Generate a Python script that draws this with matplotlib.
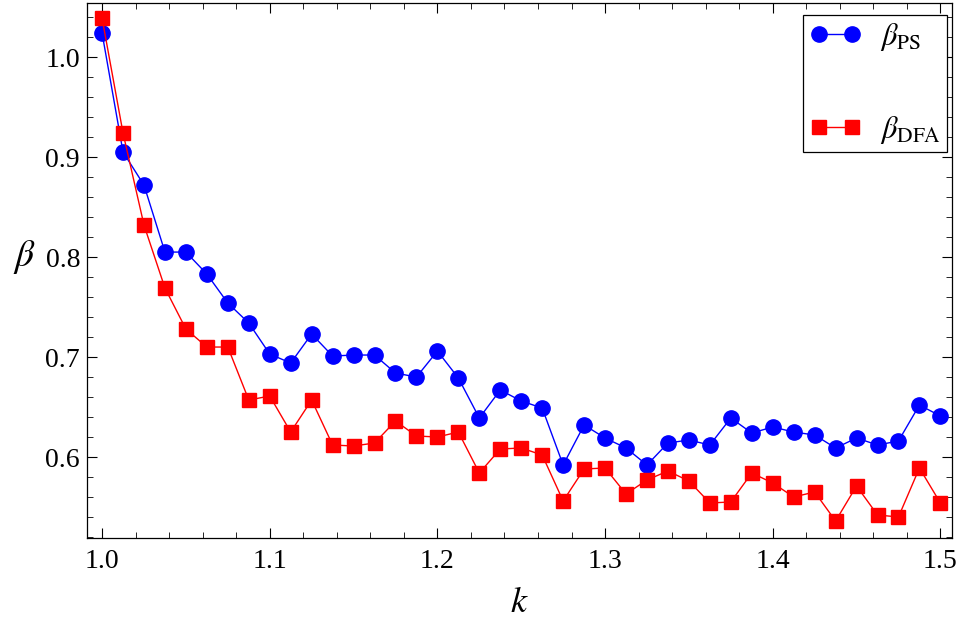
import matplotlib
matplotlib.use("Agg")
import matplotlib.pyplot as plt
import numpy as np
from matplotlib.ticker import MultipleLocator

plt.rcParams['font.family'] = ['Liberation Serif', 'DejaVu Serif']
plt.rcParams['mathtext.fontset'] = 'stix'

# k values, step 0.0125
k = np.linspace(1.0, 1.5, 41)

beta_ps = [1.024, 0.905, 0.872, 0.805, 0.805, 0.783, 0.754, 0.734, 0.703, 0.694,
           0.723, 0.701, 0.702, 0.702, 0.684, 0.680, 0.706, 0.679, 0.639, 0.667,
           0.656, 0.649, 0.592, 0.632, 0.619, 0.609, 0.592, 0.614, 0.617, 0.612,
           0.639, 0.624, 0.630, 0.625, 0.622, 0.609, 0.619, 0.612, 0.616, 0.652,
           0.641]

beta_dfa = [1.039, 0.924, 0.832, 0.769, 0.728, 0.710, 0.710, 0.657, 0.661, 0.625,
            0.657, 0.612, 0.611, 0.614, 0.636, 0.621, 0.620, 0.625, 0.584, 0.608,
            0.609, 0.602, 0.556, 0.588, 0.589, 0.563, 0.577, 0.586, 0.576, 0.554,
            0.555, 0.584, 0.574, 0.560, 0.565, 0.536, 0.571, 0.542, 0.540, 0.589,
            0.554]

fig = plt.figure(figsize=(9.57, 6.19), dpi=100)
ax = fig.add_axes([0.0909, 0.1309, 0.904, 0.864])

ax.plot(k, beta_ps, color='#0000ff', marker='o', markersize=11, lw=1,
        label=r'$\beta_{\rm PS}$')
ax.plot(k, beta_dfa, color='#ff0000', marker='s', markersize=9.5, lw=1,
        label=r'$\beta_{\rm DFA}$')

ax.set_xlim(0.991, 1.507)
ax.set_ylim(0.519, 1.054)

ax.xaxis.set_major_locator(MultipleLocator(0.1))
ax.xaxis.set_minor_locator(MultipleLocator(0.02))
ax.yaxis.set_major_locator(MultipleLocator(0.1))
ax.yaxis.set_minor_locator(MultipleLocator(0.02))
ax.tick_params(which='both', direction='in', top=True, right=True, labelsize=20)
ax.tick_params(which='major', length=7, width=0.8)
ax.tick_params(which='minor', length=4, width=0.6)
ax.tick_params(axis='x', pad=8)
ax.tick_params(axis='y', pad=5)
for s in ax.spines.values():
    s.set_linewidth(0.9)

ax.set_xlabel(r'$k$', fontsize=26, labelpad=9)
ax.set_ylabel(r'$\beta$', fontsize=27, rotation=0)
ax.yaxis.set_label_coords(-0.072, 0.49)

leg = ax.legend(loc='upper right', numpoints=2, fontsize=22, frameon=True,
                fancybox=False, edgecolor='black', framealpha=1,
                labelspacing=2.0, handlelength=1.7, handletextpad=0.6,
                borderpad=0.2, borderaxespad=0, bbox_to_anchor=(0.994, 0.978))
leg.get_frame().set_linewidth(0.9)

fig.savefig('out.png', dpi=100)
